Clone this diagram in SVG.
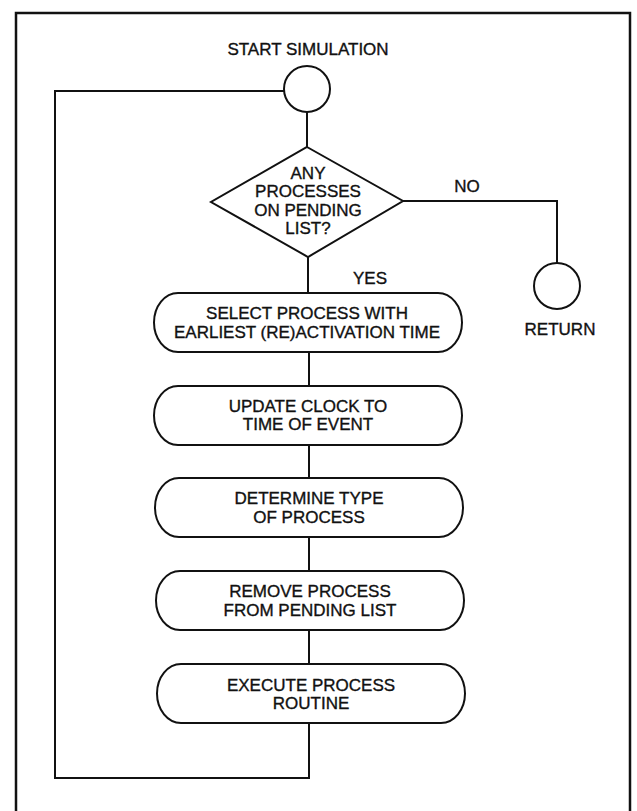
<svg xmlns="http://www.w3.org/2000/svg" width="637" height="811" viewBox="0 0 637 811">
<style>
  .shape { fill: #ffffff; stroke: #111111; stroke-width: 2; }
  .conn { fill: none; stroke: #111111; stroke-width: 2; }
  .frame { fill: none; stroke: #111111; stroke-width: 2.5; }
  text { font-family: "Liberation Sans", Arial, Helvetica, sans-serif; font-size: 17px; fill: #111111; stroke: #111111; stroke-width: 0.35; text-anchor: middle; }
</style>
<rect x="0" y="0" width="637" height="811" fill="#ffffff"/>
<path class="frame" d="M16,812 V13 H630 V812"/>
<g id="connectors">
  <line class="conn" x1="307" y1="112" x2="307" y2="147"/>
  <line class="conn" x1="308" y1="257" x2="308" y2="293"/>
  <line class="conn" x1="309" y1="352" x2="309" y2="386"/>
  <line class="conn" x1="309" y1="445" x2="309" y2="478"/>
  <line class="conn" x1="309" y1="537" x2="309" y2="571"/>
  <line class="conn" x1="309" y1="630" x2="309" y2="664"/>
  <path class="conn" d="M403,201 H557 V263"/>
  <path class="conn" d="M309,723 V778 H55 V91 H284"/>
  <text x="467" y="192">NO</text>
  <text x="370" y="284">YES</text>
</g>
<g id="start">
  <text x="308" y="55">START SIMULATION</text>
  <circle class="shape" cx="307" cy="89" r="23"/>
</g>
<g id="decision">
  <polygon class="shape" points="307,147 403,201 308,257 211,202"/>
  <text x="308" y="179">ANY</text>
  <text x="308" y="197">PROCESSES</text>
  <text x="308" y="216">ON PENDING</text>
  <text x="308" y="234">LIST?</text>
</g>
<g id="return">
  <circle class="shape" cx="557" cy="286" r="23"/>
  <text x="560" y="335">RETURN</text>
</g>
<g id="select">
  <rect class="shape" x="154" y="293" width="308" height="59" rx="24" ry="29.5"/>
  <text x="307" y="319">SELECT PROCESS WITH</text>
  <text x="307" y="338">EARLIEST (RE)ACTIVATION TIME</text>
</g>
<g id="update">
  <rect class="shape" x="154" y="386" width="308" height="59" rx="24" ry="29.5"/>
  <text x="308" y="412">UPDATE CLOCK TO</text>
  <text x="308" y="430">TIME OF EVENT</text>
</g>
<g id="determine">
  <rect class="shape" x="155" y="478" width="308" height="59" rx="24" ry="29.5"/>
  <text x="309" y="504">DETERMINE TYPE</text>
  <text x="309" y="523">OF PROCESS</text>
</g>
<g id="remove">
  <rect class="shape" x="156" y="571" width="308" height="59" rx="24" ry="29.5"/>
  <text x="310" y="597">REMOVE PROCESS</text>
  <text x="310" y="616">FROM PENDING LIST</text>
</g>
<g id="execute">
  <rect class="shape" x="157" y="664" width="308" height="59" rx="24" ry="29.5"/>
  <text x="311" y="691">EXECUTE PROCESS</text>
  <text x="311" y="709">ROUTINE</text>
</g>
</svg>
